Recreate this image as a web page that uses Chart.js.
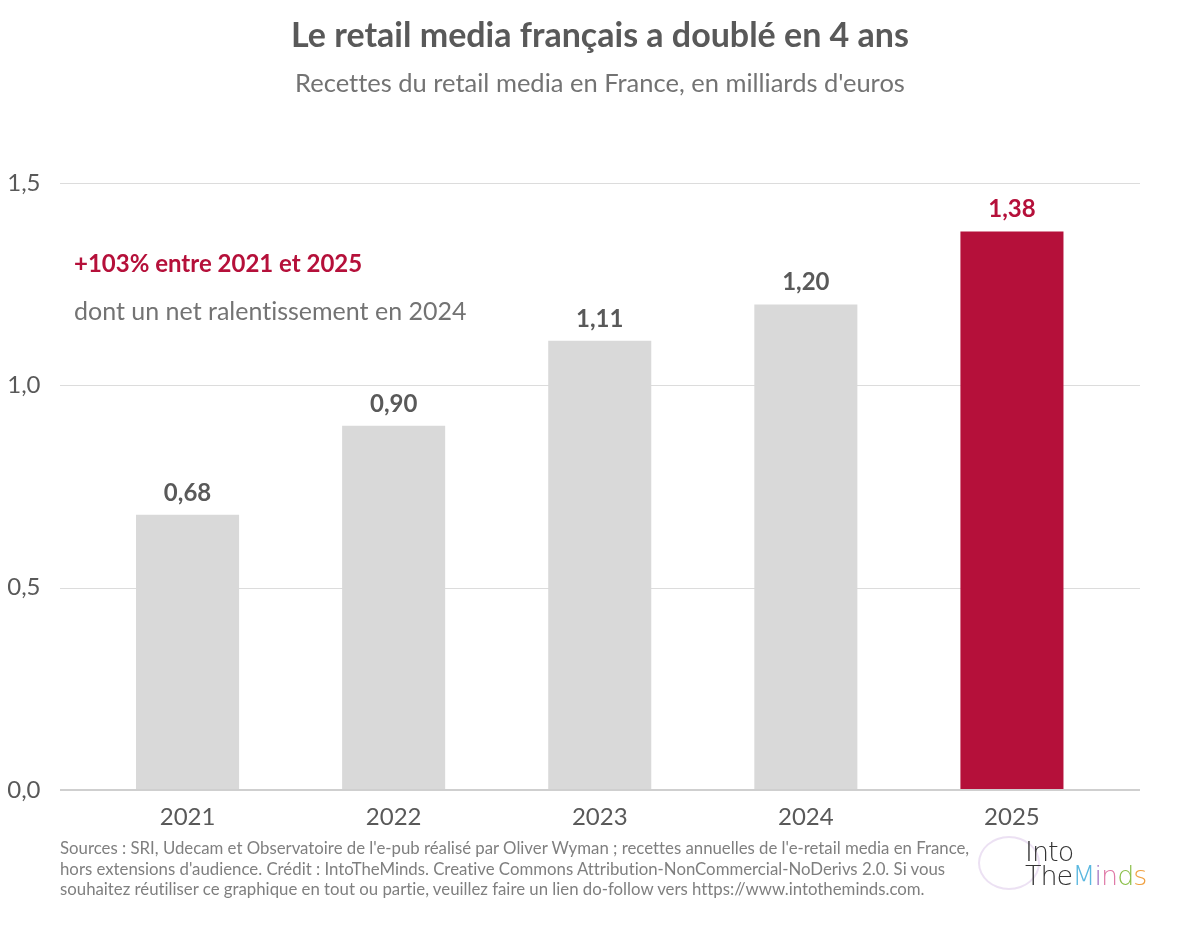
<!doctype html>
<html lang="fr">
  <head>
    <meta charset="utf-8">
    <title>Le retail media français a doublé en 4 ans</title>
    <style>
      * { margin: 0; padding: 0; font-variant-ligatures: none; }
      body { background: #fff; font-family: Lato, sans-serif; }
      .page { position: relative; width: 1200px; height: 927px; overflow: hidden; }
      #myChart { position: absolute; left: 0; top: 0; }
      .title { position: absolute; left: 0; width: 1200px; top: 13px; text-align: center;
        font-size: 34px; font-weight: bold; color: #595959; }
      .subtitle { position: absolute; left: 0; width: 1200px; top: 67px; text-align: center;
        font-size: 25.5px; color: #737373; }
      .note1 { position: absolute; left: 74px; top: 248px; font-size: 24px; font-weight: bold; color: #b5103a; }
      .note2 { position: absolute; left: 74px; top: 295px; font-size: 25px; color: #737373; }
      .footer { position: absolute; left: 60px; top: 838px; font-size: 16.8px; line-height: 20.5px; color: #7f7f7f; }
      .logo { position: absolute; left: 1025px; top: 840px; font-size: 27px; line-height: 24px; color: #333;
        font-family: "DejaVu Sans", sans-serif; font-weight: 300; letter-spacing: -1px; }
      .brain { position: absolute; left: 978px; top: 836px; width: 58px; height: 50px; border-radius: 50%;
        border: 2px solid rgba(200, 170, 220, 0.35); }
    </style>
  </head>
  <body>
    <div class="page">
      <canvas id="myChart" width="1200" height="927"></canvas>
      <div class="title">Le retail media français a doublé en 4 ans</div>
      <div class="subtitle">Recettes du retail media en France, en milliards d'euros</div>
      <div class="note1">+103% entre 2021 et 2025</div>
      <div class="note2">dont un net ralentissement en 2024</div>
      <div class="footer">Sources : SRI, Udecam et Observatoire de l'e-pub réalisé par Oliver Wyman ; recettes annuelles de l'e-retail media en France,<br>hors extensions d'audience. Crédit : IntoTheMinds. Creative Commons Attribution-NonCommercial-NoDerivs 2.0. Si vous<br>souhaitez réutiliser ce graphique en tout ou partie, veuillez faire un lien do-follow vers https://www.intotheminds.com.</div>
      <div class="brain"></div>
      <div class="logo">Into<br>The<span style="color:#5bb8e0">M</span><span style="color:#a070c0">i</span><span style="color:#e07aa8">n</span><span style="color:#8cc04a">d</span><span style="color:#f0a040">s</span></div>
    </div>

    <script src="https://cdn.jsdelivr.net/npm/chart.js/dist/chart.umd.min.js"></script>
    <script>
// data
const years = ['2021', '2022', '2023', '2024', '2025'];
const revenue = [0.68, 0.90, 1.11, 1.20, 1.38];
const yTicks = [0, 0.5, 1.0, 1.5];

const grey = '#d9d9d9';
const red = '#b5103a';
const textGrey = '#595959';

const fmt = v => v.toFixed(2).replace('.', ',');

// grid lines wider than the bar area
const gridPlugin = {
  id: 'wideGrid',
  beforeDatasetsDraw(chart) {
    const ctx = chart.ctx;
    const y = chart.scales.y;
    ctx.save();
    ctx.strokeStyle = '#dcdcdc';
    ctx.lineWidth = 1;
    yTicks.forEach(t => {
      if (t === 0) return;
      const py = Math.round(y.getPixelForValue(t)) + 0.5;
      ctx.beginPath();
      ctx.moveTo(60, py);
      ctx.lineTo(1140, py);
      ctx.stroke();
    });
    ctx.restore();
  },
  afterDatasetsDraw(chart) {
    const ctx = chart.ctx;
    const y = chart.scales.y;
    ctx.save();
    ctx.strokeStyle = '#cfcfcf';
    ctx.lineWidth = 2;
    const py = y.getPixelForValue(0);
    ctx.beginPath();
    ctx.moveTo(60, py);
    ctx.lineTo(1140, py);
    ctx.stroke();

    // value labels
    const meta = chart.getDatasetMeta(0);
    ctx.font = 'bold 24px Lato';
    ctx.textAlign = 'center';
    ctx.textBaseline = 'middle';
    meta.data.forEach((bar, i) => {
      ctx.fillStyle = i === revenue.length - 1 ? red : textGrey;
      ctx.fillText(fmt(revenue[i]), bar.x, bar.y - 22);
    });
    ctx.restore();
  }
};

const data = {
  labels: years,
  datasets: [{
    data: revenue,
    backgroundColor: revenue.map((v, i) => i === revenue.length - 1 ? red : grey),
    borderWidth: 0,
    barPercentage: 0.5,
    categoryPercentage: 1
  }]
};

const config = {
  type: 'bar',
  data,
  options: {
    responsive: false,
    animation: false,
    layout: { padding: { top: 183, right: 85, bottom: 97, left: 0 } },
    plugins: {
      legend: { display: false },
      tooltip: { enabled: false }
    },
    scales: {
      x: {
        grid: { display: false },
        border: { display: false },
        ticks: { color: textGrey, font: { family: 'Lato', size: 24 }, padding: 5 },
        afterFit(scale) { scale.height = 40; }
      },
      y: {
        min: 0,
        max: 1.5,
        grid: { display: false },
        border: { display: false },
        afterBuildTicks(scale) { scale.ticks = yTicks.map(v => ({ value: v })); },
        ticks: {
          color: textGrey,
          font: { family: 'Lato', size: 24 },
          padding: 36,
          callback: v => v.toFixed(1).replace('.', ',')
        },
        afterFit(scale) { scale.width = 84.5; }
      }
    }
  },
  plugins: [gridPlugin]
};

const myChart = new Chart(document.getElementById('myChart'), config);
    </script>
  </body>
</html>
